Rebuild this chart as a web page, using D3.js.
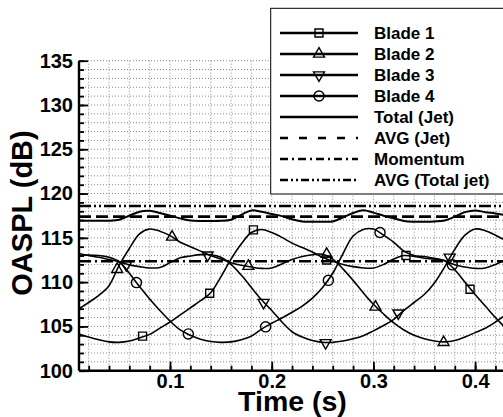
<!DOCTYPE html>
<html><head><meta charset="utf-8">
<script src="https://cdn.jsdelivr.net/npm/d3@7"></script>
<style>
body{margin:0;background:#fff}
svg{display:block}
text{font-family:"Liberation Sans",Arial,sans-serif;font-weight:bold;fill:#000}
</style>
</head><body>
<svg id="chart" width="503" height="417"></svg>
<script>
// ---------- DATA ----------
const time = [0.01,0.02,0.03,0.04,0.05,0.06,0.07,0.08,0.09,0.10,0.11,0.12,0.13,0.14,0.15,0.16,0.17,0.18,0.19,0.20,0.21,0.22,0.23,0.24,0.25,0.26,0.27,0.28,0.29,0.30,0.31,0.32,0.33,0.34,0.35,0.36,0.37,0.38,0.39,0.40,0.41,0.42,0.43];
const blade1 = [104.15,103.8,103.5,103.25,103.2,103.35,103.7,104.1,104.8,105.5,106.3,107.1,107.9,108.8,110.6,112.6,114.3,115.6,115.95,115.6,115.05,114.4,113.9,113.4,112.8,112.35,112.0,111.75,111.6,111.6,112.0,112.6,113.0,112.9,112.7,112.6,112.4,111.4,110.0,108.6,107.3,106.0,104.8];
const blade2 = [106.95,107.7,108.5,109.6,111.9,113.8,115.45,116.0,115.75,115.25,114.5,114.0,113.5,113.0,112.6,112.2,111.9,111.7,111.55,111.6,112.05,112.55,112.9,113.1,113.15,112.6,111.5,110.2,108.8,107.5,106.4,105.4,104.6,104.0,103.6,103.35,103.25,103.4,103.8,104.3,104.8,105.5,106.3];
const blade3 = [113.25,113.0,112.8,112.55,112.3,111.95,111.75,111.6,111.65,112.2,112.75,112.95,113.1,113.1,112.8,112.0,110.8,109.4,108.0,106.8,105.5,104.4,103.8,103.4,103.2,103.2,103.35,103.6,103.95,104.5,105.1,105.8,106.8,107.7,108.6,109.9,111.7,113.7,115.3,116.0,115.8,115.3,114.7];
const blade4 = [113.0,113.05,113.0,112.8,112.3,111.0,109.5,108.1,106.8,105.6,104.6,104.0,103.55,103.3,103.2,103.25,103.5,103.9,104.7,105.35,105.95,106.6,107.3,108.2,109.4,111.0,113.2,115.2,115.95,116.0,115.3,114.5,113.5,113.0,112.9,112.7,112.45,111.95,111.7,111.55,111.6,112.0,112.5];
const totalJet = [116.95,116.93,116.92,116.93,117.05,117.5,117.95,118.05,117.8,117.5,117.2,116.95,116.9,116.9,116.92,117.05,117.6,118.1,117.95,117.7,117.45,117.1,116.85,116.82,116.82,116.85,117.3,117.8,118.12,117.85,117.5,117.2,116.9,116.82,116.82,116.85,116.95,117.4,117.9,118.1,117.9,117.75,117.55];
const avgJet = 117.4;
const momentum = 112.35;
const avgTotalJet = 118.6;

const marker1X = [0.073,0.139,0.182,0.254,0.332,0.395];
const marker1Y = [103.9,108.75,115.9,112.5,113.0,109.2];
const marker2X = [0.048,0.102,0.177,0.254,0.302,0.369];
const marker2Y = [111.45,115.1,111.8,113.15,107.2,103.2];
const marker3X = [0.057,0.137,0.192,0.253,0.3245,0.375];
const marker3Y = [111.95,113.05,107.7,103.15,106.5,112.8];
const marker4X = [0.067,0.118,0.194,0.2557,0.3065,0.3776];
const marker4Y = [109.95,104.15,104.95,110.2,115.6,111.95];

const yTicks = [100,105,110,115,120,125,130,135];
const xTicks = [0.1,0.2,0.3,0.4];
const legendLabels = ["Blade 1","Blade 2","Blade 3","Blade 4","Total (Jet)","AVG (Jet)","Momentum","AVG (Total jet)"];

// ---------- LAYOUT ----------
const svg = d3.select("#chart");
const x = d3.scaleLinear().domain([0.0105, 0.44]).range([79, 79 + (0.44 - 0.0105) * 1017]);
const y = d3.scaleLinear().domain([100, 135]).range([370.7, 60.7]);
const xMin = x.range()[0], xMax = x.range()[1], yBot = y.range()[0], yTop = y.range()[1];

// grid
const gGrid = svg.append("g").attr("stroke", "#8a8a8a").attr("stroke-width", 1).attr("stroke-dasharray", "1,2");
gGrid.selectAll("line.h").data(d3.range(101, 136, 1)).join("line")
  .attr("x1", xMin).attr("x2", xMax).attr("y1", d => y(d)).attr("y2", d => y(d));
gGrid.selectAll("line.v").data(d3.range(1, 22).map(i => i * 0.02)).join("line")
  .attr("x1", d => x(d)).attr("x2", d => x(d)).attr("y1", yTop).attr("y2", yBot);

// clip
svg.append("clipPath").attr("id", "clip").append("rect")
  .attr("x", xMin).attr("y", yTop - 2).attr("width", xMax - xMin).attr("height", yBot - yTop + 2);
const plot = svg.append("g").attr("clip-path", "url(#clip)");

// horizontal reference lines
const hlines = [
  {v: avgTotalJet, dash: "12,3,2,3,2,3", w: 2.6},
  {v: avgJet, dash: "12,5", w: 2.6},
  {v: momentum, dash: "12,4,2,4", w: 2.4}
];
plot.selectAll("line.ref").data(hlines).join("line")
  .attr("x1", xMin).attr("x2", xMax).attr("y1", d => y(d.v)).attr("y2", d => y(d.v))
  .attr("stroke", "#000").attr("stroke-width", d => d.w).attr("stroke-dasharray", d => d.dash);

const line = d3.line().x(d => x(d[0])).y(d => y(d[1])).curve(d3.curveCatmullRom.alpha(0.5));
const series = [
  {vals: totalJet, w: 2},
  {vals: blade1, w: 1.6},
  {vals: blade2, w: 1.6},
  {vals: blade3, w: 1.6},
  {vals: blade4, w: 1.6}
];
plot.selectAll("path.s").data(series).join("path")
  .attr("fill", "none").attr("stroke", "#000").attr("stroke-width", d => d.w)
  .attr("stroke-linejoin", "round")
  .attr("d", d => line(time.map((t, i) => [t, d.vals[i]])));

// markers
const sym = {
  square: d3.symbol().type(d3.symbolSquare).size(64),
  up: d3.symbol().type(d3.symbolTriangle).size(52),
  circle: d3.symbol().type(d3.symbolCircle).size(80)
};
const markerSets = [
  {xs: marker1X, ys: marker1Y, s: "square", rot: 0},
  {xs: marker2X, ys: marker2Y, s: "up", rot: 0},
  {xs: marker3X, ys: marker3Y, s: "up", rot: 180},
  {xs: marker4X, ys: marker4Y, s: "circle", rot: 0}
];
markerSets.forEach(m => {
  plot.selectAll(null).data(m.xs.map((t, i) => [t, m.ys[i]])).join("path")
    .attr("d", sym[m.s]())
    .attr("transform", d => `translate(${x(d[0])},${y(d[1])}) rotate(${m.rot})`)
    .attr("fill", "none").attr("stroke", "#000").attr("stroke-width", 1.4);
});

// axes
const axL = svg.append("g").attr("transform", `translate(${xMin},0)`)
  .call(d3.axisLeft(y).tickValues(yTicks).tickSize(-9).tickPadding(6));
const axLm = svg.append("g").attr("transform", `translate(${xMin},0)`)
  .call(d3.axisLeft(y).tickValues(d3.range(100, 136, 1)).tickSize(-5).tickFormat(""));
const axB = svg.append("g").attr("transform", `translate(0,${yBot})`)
  .call(d3.axisBottom(x).tickValues(xTicks).tickSize(-9).tickPadding(3).tickFormat(d3.format(".1f")));
const axBm = svg.append("g").attr("transform", `translate(0,${yBot})`)
  .call(d3.axisBottom(x).tickValues(d3.range(1, 22).map(i => i * 0.02)).tickSize(-5).tickFormat(""));
[axL, axLm, axB, axBm].forEach(g => {
  g.selectAll(".domain").attr("stroke", "#000").attr("stroke-width", 2.4);
  g.selectAll(".tick line").attr("stroke", "#000").attr("stroke-width", 1.8);
  g.selectAll("text").attr("font-family", "'Liberation Sans',Arial,sans-serif").attr("font-weight", "bold").attr("font-size", 20).attr("fill", "#000");
});
axL.select(".domain").attr("d", `M0,${yTop}V${yBot}`);
axLm.select(".domain").remove();
axB.select(".domain").attr("d", `M${xMin},0H${xMax}`);
axBm.select(".domain").remove();

// titles
svg.append("text").attr("x", 292.5).attr("y", 410.5).attr("text-anchor", "middle")
  .attr("font-size", 28.5).text("Time (s)");
svg.append("text").attr("transform", "translate(32,213) rotate(-90)").attr("text-anchor", "middle")
  .attr("font-size", 29).text("OASPL (dB)");

// legend
const lg = svg.append("g");
lg.append("rect").attr("x", 270.7).attr("y", 8.3).attr("width", 300).attr("height", 185.7)
  .attr("fill", "#fff").attr("stroke", "#000").attr("stroke-width", 1);
const legStyles = [
  {dash: null, mk: "square", rot: 0},
  {dash: null, mk: "up", rot: 0},
  {dash: null, mk: "up", rot: 180},
  {dash: null, mk: "circle", rot: 0},
  {dash: null, mk: null},
  {dash: "8,11", mk: null},
  {dash: "8,4,2,4", mk: null},
  {dash: "8,3,2,3,2,3", mk: null}
];
legendLabels.forEach((lab, i) => {
  const cy = 33 + i * 21;
  const st = legStyles[i];
  lg.append("line").attr("x1", 280).attr("x2", 358).attr("y1", cy).attr("y2", cy)
    .attr("stroke", "#000").attr("stroke-width", 2.6)
    .attr("stroke-dasharray", st.dash);
  if (st.mk) {
    lg.append("path").attr("d", sym[st.mk]())
      .attr("transform", `translate(319,${cy}) rotate(${st.rot})`)
      .attr("fill", "none").attr("stroke", "#000").attr("stroke-width", 1.4);
  }
  lg.append("text").attr("x", 374).attr("y", cy + 6).attr("font-size", 17).text(lab);
});
</script>
</body></html>
